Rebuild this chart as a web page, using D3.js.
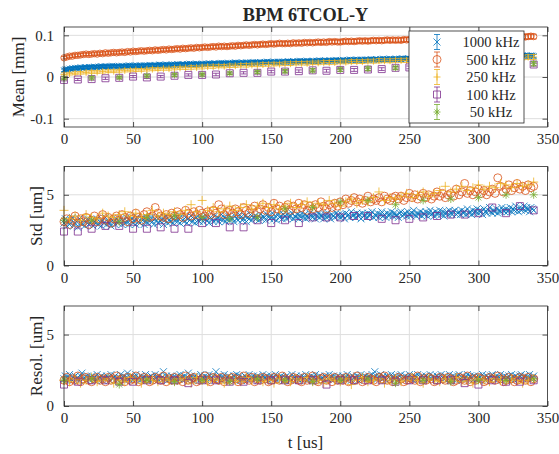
<!DOCTYPE html>
<html><head><meta charset="utf-8">
<script src="https://cdn.jsdelivr.net/npm/d3@7"></script>
<style>
body{margin:0;background:#fff}
svg{display:block}
text{font-family:"Liberation Serif","Times New Roman",serif;fill:#262626}
</style>
</head><body>
<svg id="chart" width="559" height="454"></svg>
<script>
// ---------------- DATA ----------------
const chartTitle = "BPM 6TCOL-Y";
const seriesNames = ["1000 kHz","500 kHz","250 kHz","100 kHz","50 kHz"];
const timeStep = [1,2,4,10,20]; // us between samples of each series
const xTickValues = [0,50,100,150,200,250,300,350];
const xTickLabels = ["0","50","100","150","200","250","300","350"];
const meanTickValues = [-0.1,0,0.1];
const meanTickLabels = ["-0.1","0","0.1"];
const umTickValues = [0,5];
const umTickLabels = ["0","5"];
const yLabels = ["Mean [mm]","Std [um]","Resol. [um]"];
const xLabel = "t [us]";

// 1000 kHz
const mean1000 = [
0.016,0.018,0.019,0.018,0.020,0.019,0.021,0.020,0.022,0.021,0.022,0.021,0.023,0.022,0.022,0.024,0.023,0.022,0.024,0.023,
0.024,0.023,0.025,0.024,0.023,0.025,0.024,0.026,0.025,0.024,0.026,0.025,0.024,0.026,0.025,0.027,0.026,0.025,0.026,0.025,
0.026,0.025,0.027,0.026,0.025,0.027,0.026,0.028,0.027,0.026,0.027,0.026,0.028,0.027,0.026,0.028,0.027,0.026,0.028,0.027,
0.028,0.027,0.029,0.028,0.027,0.028,0.029,0.027,0.028,0.030,0.029,0.028,0.029,0.028,0.030,0.029,0.028,0.029,0.030,0.029,
0.030,0.029,0.031,0.030,0.029,0.030,0.031,0.030,0.029,0.031,0.030,0.032,0.031,0.030,0.031,0.030,0.032,0.031,0.030,0.031,
0.032,0.031,0.030,0.032,0.031,0.033,0.032,0.031,0.032,0.033,0.032,0.031,0.033,0.032,0.034,0.033,0.032,0.033,0.032,0.034,
0.033,0.032,0.034,0.033,0.035,0.034,0.033,0.034,0.033,0.035,0.034,0.033,0.035,0.034,0.033,0.035,0.034,0.036,0.035,0.034,
0.035,0.034,0.036,0.035,0.034,0.036,0.035,0.037,0.036,0.035,0.036,0.035,0.037,0.036,0.035,0.037,0.036,0.035,0.037,0.036,
0.037,0.036,0.038,0.037,0.036,0.037,0.038,0.037,0.036,0.038,0.037,0.039,0.038,0.037,0.038,0.037,0.039,0.038,0.037,0.038,
0.039,0.038,0.037,0.039,0.038,0.040,0.039,0.038,0.039,0.040,0.039,0.038,0.040,0.039,0.038,0.040,0.039,0.041,0.040,0.039,
0.040,0.039,0.041,0.040,0.039,0.041,0.040,0.042,0.041,0.040,0.041,0.040,0.042,0.041,0.040,0.042,0.041,0.040,0.042,0.041,
0.042,0.041,0.043,0.042,0.041,0.042,0.043,0.042,0.041,0.043,0.042,0.044,0.043,0.042,0.043,0.042,0.044,0.043,0.042,0.043,
0.044,0.043,0.042,0.044,0.043,0.045,0.044,0.043,0.044,0.045,0.044,0.043,0.045,0.044,0.043,0.045,0.044,0.046,0.045,0.044,
0.045,0.044,0.046,0.045,0.044,0.046,0.045,0.047,0.046,0.045,0.046,0.045,0.047,0.046,0.045,0.047,0.046,0.045,0.047,0.046,
0.047,0.046,0.048,0.047,0.046,0.047,0.048,0.047,0.046,0.048,0.047,0.049,0.048,0.047,0.048,0.047,0.049,0.048,0.047,0.048,
0.049,0.048,0.047,0.049,0.048,0.050,0.049,0.048,0.049,0.050,0.049,0.048,0.050,0.049,0.048,0.050,0.049,0.051,0.050,0.049,
0.050,0.049,0.051,0.050,0.049,0.051,0.050,0.052,0.051,0.050,0.051,0.050,0.052,0.051,0.050,0.052,0.051,0.050,0.052,0.051,0.050];
const std1000 = [
3.0,3.3,2.8,3.1,2.9,3.2,3.4,2.8,3.0,3.1,2.7,3.3,3.0,2.9,3.2,2.8,3.1,3.3,2.9,3.0,
3.2,2.8,3.1,3.0,3.3,2.9,3.1,2.8,3.2,3.0,3.4,2.9,3.1,3.0,2.8,3.2,3.1,2.9,3.3,3.0,
3.1,3.3,2.9,3.2,3.0,3.4,3.1,2.9,3.2,3.3,3.0,3.2,2.9,3.4,3.1,3.0,3.3,3.2,2.9,3.1,
3.3,3.0,3.2,3.4,3.1,2.9,3.3,3.2,3.0,3.4,3.1,3.3,2.9,3.2,3.5,3.0,3.2,3.1,3.4,3.0,
3.2,3.4,3.1,3.3,3.0,3.5,3.2,3.1,3.4,3.0,3.3,3.2,3.5,3.1,3.3,3.0,3.4,3.2,3.1,3.3,
3.4,3.1,3.3,3.5,3.2,3.0,3.4,3.3,3.1,3.5,3.2,3.4,3.1,3.3,3.6,3.2,3.4,3.1,3.3,3.5,
3.2,3.4,3.3,3.1,3.5,3.3,3.2,3.6,3.4,3.2,3.3,3.5,3.1,3.4,3.3,3.6,3.2,3.4,3.5,3.3,
3.4,3.2,3.6,3.3,3.5,3.4,3.2,3.6,3.5,3.3,3.4,3.7,3.3,3.5,3.2,3.6,3.4,3.5,3.3,3.6,
3.5,3.3,3.6,3.4,3.5,3.7,3.3,3.5,3.4,3.6,3.3,3.5,3.7,3.4,3.6,3.3,3.5,3.4,3.7,3.5,
3.4,3.6,3.3,3.5,3.7,3.4,3.6,3.5,3.3,3.6,3.4,3.7,3.5,3.3,3.6,3.5,3.4,3.7,3.5,3.6,
3.4,3.6,3.5,3.3,3.7,3.5,3.6,3.4,3.8,3.5,3.6,3.4,3.7,3.5,3.6,3.3,3.7,3.5,3.6,3.4,
3.7,3.5,3.6,3.8,3.4,3.6,3.5,3.7,3.4,3.6,3.8,3.5,3.6,3.4,3.7,3.5,3.6,3.8,3.5,3.7,
3.5,3.6,3.4,3.7,3.8,3.5,3.6,3.7,3.5,3.8,3.6,3.5,3.7,3.9,3.6,3.5,3.7,3.6,3.8,3.5,
3.7,3.6,3.8,3.5,3.7,3.9,3.6,3.7,3.5,3.8,3.6,3.7,3.9,3.6,3.8,3.5,3.7,3.8,3.6,3.9,
3.7,3.6,3.8,3.9,3.6,3.7,3.8,3.6,3.9,3.7,3.8,3.6,4.0,3.7,3.8,3.6,3.9,3.7,3.8,4.0,
3.7,3.9,3.8,3.6,4.0,3.8,3.7,3.9,4.1,3.8,3.7,3.9,3.8,4.0,3.7,3.9,3.8,4.1,3.9,3.8,
4.0,3.8,3.9,4.1,3.8,4.0,3.9,4.2,3.9,3.8,4.1,3.9,4.0,4.2,3.9,4.1,4.0,3.8,4.1,4.0,3.9];
const res1000 = [
1.9,2.1,1.8,2.0,2.2,1.9,1.8,2.0,2.1,1.9,2.0,1.8,2.1,2.3,1.9,2.0,1.8,2.1,1.9,2.0,
2.1,1.9,2.0,1.8,2.2,1.9,2.0,2.1,1.8,2.0,1.9,2.1,2.0,1.8,2.2,1.9,2.0,2.1,1.9,1.8,
2.0,2.2,1.9,2.1,1.8,2.0,2.3,1.9,2.0,2.1,1.8,2.0,2.2,1.9,2.0,1.8,2.1,1.9,2.0,2.2,
1.9,2.0,1.8,2.1,2.0,1.9,2.2,2.0,1.8,2.1,1.9,2.0,2.4,1.9,2.1,1.8,2.0,1.9,2.1,2.0,
1.8,2.0,2.1,1.9,2.2,2.0,1.8,2.1,1.9,2.0,2.3,1.9,2.1,1.8,2.0,2.1,1.9,2.0,1.8,2.2,
2.0,1.9,2.1,1.8,2.0,2.2,1.9,2.0,2.1,1.8,2.4,2.0,1.9,2.1,1.8,2.0,2.2,1.9,2.0,2.1,
1.9,2.0,1.8,2.1,2.0,2.2,1.9,2.1,1.8,2.0,1.9,2.1,2.0,1.8,2.2,1.9,2.0,2.1,1.9,2.0,
2.1,1.8,2.0,1.9,2.2,2.0,1.9,2.1,1.8,2.0,2.1,1.9,2.0,2.2,1.8,2.0,1.9,2.1,2.0,1.8,
2.0,2.1,1.9,2.0,1.8,2.2,1.9,2.0,2.1,1.9,1.8,2.0,2.1,1.9,2.0,2.2,1.8,2.0,1.9,2.1,
1.9,2.0,2.2,1.8,2.0,2.1,1.9,2.0,1.8,2.1,2.0,1.9,2.2,2.0,1.8,2.1,1.9,2.0,2.1,1.9,
2.0,1.8,2.1,1.9,2.0,2.2,1.9,2.0,1.8,2.1,2.0,1.9,2.1,1.8,2.0,2.2,1.9,2.0,2.1,1.9,
2.0,2.1,1.9,2.2,2.0,2.4,2.1,1.9,2.0,2.2,1.9,2.1,2.0,1.8,2.1,2.0,1.9,2.2,2.0,1.9,
2.1,2.0,1.8,2.1,2.2,1.9,2.0,2.1,1.9,2.0,2.2,1.9,2.0,1.8,2.1,2.0,2.2,1.9,2.0,2.1,
1.9,2.0,2.1,1.8,2.0,2.2,1.9,2.1,2.0,1.9,2.1,2.0,1.8,2.2,2.0,1.9,2.1,2.0,1.9,2.2,
2.0,1.9,2.1,2.0,1.8,2.1,2.2,1.9,2.0,2.1,1.9,2.0,2.2,1.9,2.1,2.0,1.8,2.1,2.0,1.9,
2.1,2.0,1.9,2.2,2.0,1.8,2.1,2.0,1.9,2.1,2.2,1.9,2.0,2.1,1.9,2.0,2.2,1.8,2.0,2.1,
1.9,2.0,2.1,1.9,2.2,2.0,1.8,2.1,2.0,1.9,2.1,2.2,1.9,2.0,2.1,1.9,2.0,2.2,1.9,2.0,2.1];

// 500 kHz
const mean500 = [
0.046,0.048,0.050,0.050,0.052,0.052,0.053,0.054,0.055,0.054,0.055,0.056,0.055,0.057,0.056,0.058,0.057,0.058,0.059,0.058,
0.059,0.060,0.059,0.061,0.060,0.062,0.061,0.062,0.063,0.062,0.063,0.064,0.063,0.065,0.064,0.065,0.066,0.065,0.067,0.066,
0.067,0.068,0.067,0.069,0.068,0.069,0.070,0.069,0.071,0.070,0.071,0.072,0.071,0.072,0.073,0.072,0.074,0.073,0.074,0.073,
0.074,0.075,0.074,0.076,0.075,0.076,0.077,0.076,0.077,0.078,0.077,0.078,0.079,0.078,0.079,0.080,0.079,0.080,0.081,0.080,
0.080,0.081,0.080,0.082,0.081,0.082,0.081,0.083,0.082,0.083,0.082,0.083,0.084,0.083,0.084,0.083,0.085,0.084,0.085,0.084,
0.084,0.085,0.086,0.085,0.086,0.085,0.086,0.087,0.086,0.087,0.086,0.087,0.088,0.087,0.088,0.087,0.088,0.089,0.088,0.089,
0.088,0.089,0.088,0.090,0.089,0.090,0.089,0.091,0.090,0.091,0.090,0.091,0.090,0.092,0.091,0.092,0.091,0.092,0.093,0.092,
0.092,0.093,0.092,0.093,0.094,0.093,0.094,0.093,0.094,0.093,0.094,0.095,0.094,0.095,0.094,0.095,0.096,0.095,0.096,0.095,
0.095,0.096,0.095,0.096,0.097,0.096,0.097,0.096,0.097,0.098,0.097];
const std500 = [
3.1,3.3,2.9,3.2,3.5,3.0,3.3,3.1,3.4,2.9,3.2,3.5,3.1,3.3,3.6,3.2,3.4,3.0,3.3,3.5,
3.2,3.6,3.4,3.1,3.5,3.3,3.7,3.4,3.2,3.6,3.8,3.4,3.5,4.1,3.7,3.5,3.4,3.6,3.3,3.7,
3.5,3.8,3.6,3.4,3.9,3.7,3.5,3.8,3.6,3.9,3.7,3.5,3.8,3.6,3.9,3.7,4.3,4.0,3.6,3.8,
3.9,3.7,4.0,3.8,3.6,4.1,3.9,3.7,4.0,4.2,3.8,4.0,4.3,3.9,4.1,3.8,4.4,4.0,4.2,3.9,
4.1,4.3,3.9,4.2,4.0,4.4,4.1,4.3,3.9,4.2,4.0,4.3,4.1,4.5,4.2,4.0,4.3,4.1,4.4,4.2,
4.5,4.3,4.7,4.4,4.6,4.8,4.5,4.7,4.4,4.6,4.9,4.5,4.7,4.6,4.8,4.5,4.9,4.7,4.6,4.8,
4.9,4.7,4.9,4.6,4.8,5.1,4.8,5.0,4.7,4.9,5.1,4.8,5.0,4.7,4.9,5.2,4.9,5.1,4.8,5.0,
5.1,4.9,5.4,5.0,5.2,5.8,5.1,5.3,5.0,5.2,5.4,5.1,5.3,5.0,5.2,5.4,5.1,6.2,5.6,5.2,
5.4,5.7,5.3,5.5,5.8,5.4,5.6,5.3,5.7,5.5,5.6];
const res500 = [
1.8,2.0,1.7,1.9,1.8,2.1,1.7,1.9,2.0,1.8,1.7,1.9,2.0,1.8,1.9,1.7,2.0,1.8,1.9,2.1,
1.8,1.9,1.7,2.0,1.8,1.9,2.1,1.7,1.8,2.0,1.9,1.7,1.8,2.0,1.9,1.8,2.1,1.7,1.9,1.8,
2.0,1.8,1.9,1.7,2.1,1.8,1.9,2.0,1.7,1.8,1.9,2.1,1.8,1.7,2.0,1.9,1.8,2.0,1.7,1.9,
1.8,2.0,1.9,1.7,1.8,2.1,1.9,1.8,2.0,1.7,1.9,1.8,2.0,1.9,1.7,1.8,2.0,1.9,1.8,2.1,
1.9,1.7,1.8,2.0,1.9,1.8,1.7,2.0,1.8,1.9,2.1,1.8,1.7,1.9,2.0,1.8,1.9,1.7,2.0,1.8,
1.9,1.8,2.0,1.7,1.9,1.8,2.1,1.9,1.7,1.8,2.0,1.9,1.8,1.7,2.0,1.9,2.1,1.8,1.9,1.7,
1.8,2.0,1.9,1.7,1.8,2.0,1.9,1.8,2.1,1.7,1.9,1.8,2.0,1.9,1.7,1.8,2.0,1.9,1.8,2.0,
1.9,1.7,1.8,2.0,1.9,1.8,2.1,1.7,1.9,1.8,2.0,1.9,1.7,1.8,2.0,1.9,1.8,2.1,1.9,1.7,
1.8,2.0,1.9,1.7,1.8,2.0,1.9,1.8,2.0,1.7,1.9];

// 250 kHz
const mean250 = [
0.006,0.008,0.009,0.010,0.011,0.012,0.012,0.013,0.014,0.014,0.015,0.016,0.016,0.017,0.017,0.018,0.019,0.019,0.020,0.020,
0.021,0.022,0.022,0.023,0.023,0.024,0.025,0.025,0.026,0.026,0.027,0.027,0.028,0.028,0.029,0.029,0.030,0.030,0.031,0.031,
0.032,0.032,0.033,0.033,0.033,0.034,0.034,0.035,0.035,0.035,0.036,0.036,0.037,0.037,0.037,0.038,0.038,0.039,0.039,0.039,
0.040,0.040,0.040,0.041,0.041,0.042,0.042,0.042,0.043,0.043,0.043,0.044,0.044,0.044,0.045,0.045,0.045,0.046,0.046,0.046,
0.046,0.047,0.047,0.047,0.048,0.048];
const std250 = [
3.9,3.3,3.5,3.2,3.6,3.4,3.3,3.7,3.5,3.4,3.6,3.8,3.5,3.7,3.4,3.6,3.9,3.5,3.7,3.6,
3.8,3.6,3.9,4.3,3.8,4.6,3.9,4.1,3.8,4.0,4.2,3.9,4.1,4.3,4.0,4.2,4.4,4.1,4.3,4.0,
4.2,4.4,4.1,4.3,4.5,4.2,4.4,4.3,4.6,4.4,4.2,4.5,4.7,4.4,4.6,4.5,4.8,5.2,4.6,4.8,
4.7,4.9,5.1,4.8,5.0,5.2,4.9,5.1,5.3,5.6,5.2,5.4,5.6,5.3,5.5,5.7,5.4,5.6,5.5,5.8,
5.7,5.5,5.8,5.6,5.7,5.9];
const res250 = [
1.8,1.7,1.9,1.6,1.8,2.0,1.7,1.8,1.9,1.6,1.8,1.7,2.0,1.8,1.6,1.9,1.8,1.7,1.9,1.8,
1.7,1.9,1.8,1.6,2.0,1.8,1.7,1.9,1.8,1.6,1.9,1.8,1.7,2.0,1.8,1.9,1.7,1.8,1.6,1.9,
1.8,1.7,1.9,1.8,2.0,1.7,1.8,1.6,1.9,1.8,1.7,1.9,1.5,1.8,2.0,1.7,1.8,1.9,1.6,1.8,
1.9,1.7,1.8,2.0,1.8,1.6,1.9,1.8,1.7,1.9,1.8,2.0,1.7,1.8,1.6,1.9,1.8,1.7,1.9,1.8,
1.7,1.9,1.8,1.6,1.8,1.9];

// 100 kHz
const mean100 = [-0.007,-0.006,-0.005,-0.003,-0.002,0.001,-0.001,0.001,0.003,0.005,0.005,0.006,0.009,0.010,0.010,0.013,0.013,0.014,0.016,0.015,0.017,0.017,0.018,0.019,0.022,0.023,0.024,0.025,0.026,0.027,0.028,0.029,0.029,0.030,0.030];
const std100 = [2.4,2.4,2.6,2.8,2.8,2.6,2.6,2.7,2.6,2.6,3.0,3.0,2.7,2.7,3.2,3.0,3.2,3.0,3.4,3.4,3.4,3.5,3.5,3.3,3.2,3.3,3.4,3.5,3.6,3.6,3.7,4.1,3.7,4.2,3.9];
const res100 = [1.5,1.7,1.8,1.8,1.7,1.7,1.8,1.8,1.8,1.6,1.8,1.8,1.7,1.7,1.8,1.8,1.8,1.8,1.8,1.5,1.8,1.8,1.8,1.8,1.7,1.8,1.8,1.8,1.8,1.6,1.5,1.8,1.7,1.7,1.8];

// 50 kHz
const mean50 = [-0.003,-0.002,-0.001,0.003,0.005,0.006,0.009,0.012,0.014,0.016,0.018,0.020,0.022,0.024,0.026,0.028,0.030,0.032];
const std50 = [3.2,3.2,3.1,3.4,3.5,3.4,3.3,3.4,4.0,4.1,4.5,4.6,4.3,4.6,4.7,4.8,5.0,5.0];
const res50 = [1.8,1.9,1.5,1.8,1.7,1.8,1.7,1.9,1.8,1.7,1.8,1.9,1.6,1.8,1.7,1.8,1.8,1.9];

// ---------------- STYLE / LAYOUT ----------------
const colors = ["#0072BD","#D95319","#EDB120","#7E2F8E","#77AC30"];
const markers = ["x","o","+","s","*"];
const meanData = [mean1000,mean500,mean250,mean100,mean50];
const stdData = [std1000,std500,std250,std100,std50];
const resData = [res1000,res500,res250,res100,res50];

const svg = d3.select("#chart");
const axisColor = "#262626";
const gridColor = "#dedede";
const x = d3.scaleLinear().domain([0,350]).range([64,547.5]);

const panels = [
  {top:27, bottom:127, domain:[-0.12,0.12], ticks:meanTickValues, labels:meanTickLabels, ylab:yLabels[0], labX:18.5, data:meanData, err:true,
   size:{x:3,o:3.2,"+":3.5,s:3.5,"*":3.5}},
  {top:166.5, bottom:265.5, domain:[0,7], ticks:umTickValues, labels:umTickLabels, ylab:yLabels[1], labX:36, data:stdData, err:false,
   size:{x:3.5,o:4,"+":4.5,s:3.5,"*":4}},
  {top:306, bottom:406, domain:[0,7], ticks:umTickValues, labels:umTickLabels, ylab:yLabels[2], labX:36, data:resData, err:false,
   size:{x:3.5,o:4,"+":4.5,s:3.5,"*":4}}
];

function markerPath(type, s){
  switch(type){
    case "x": return `M${-s},${-s}L${s},${s}M${-s},${s}L${s},${-s}`;
    case "+": return `M${-s},0H${s}M0,${-s}V${s}`;
    case "*": { const d=s*0.72; return `M${-s},0H${s}M0,${-s}V${s}M${-d},${-d}L${d},${d}M${-d},${d}L${d},${-d}`; }
    case "s": return `M${-s},${-s}H${s}V${s}H${-s}Z`;
    case "o": return `M${s},0A${s},${s} 0 1,1 ${-s},0A${s},${s} 0 1,1 ${s},0Z`;
  }
}

panels.forEach((p) => {
  const y = d3.scaleLinear().domain(p.domain).range([p.bottom, p.top]);
  const g = svg.append("g");
  // grid
  g.append("g").selectAll("line.gx").data(xTickValues.slice(1,-1)).join("line")
    .attr("x1",d=>x(d)).attr("x2",d=>x(d)).attr("y1",p.top).attr("y2",p.bottom)
    .attr("stroke",gridColor).attr("stroke-width",1);
  g.append("g").selectAll("line.gy").data(p.ticks).join("line")
    .attr("x1",x(0)).attr("x2",x(350)).attr("y1",d=>y(d)).attr("y2",d=>y(d))
    .attr("stroke",gridColor).attr("stroke-width",1);

  // data
  p.data.forEach((vals, si) => {
    const step = timeStep[si], col = colors[si], mk = markers[si];
    const sg = g.append("g").attr("fill","none").attr("stroke",col).attr("stroke-width",0.8);
    if (p.err) {
      const errs = stdData[si];
      sg.selectAll("path.eb").data(vals).join("path")
        .attr("d",(d,i)=>{
          const xx = x(i*step), e = errs[i]/1000;
          const y1 = y(d+e), y2 = y(d-e);
          return `M${xx},${y1}V${y2}M${xx-3},${y1}H${xx+3}M${xx-3},${y2}H${xx+3}`;
        });
    }
    sg.selectAll("path.mk").data(vals).join("path")
      .attr("transform",(d,i)=>`translate(${x(i*step)},${y(d)})`)
      .attr("d", markerPath(mk, p.size[mk]));
  });

  // axes (ticks inward)
  const fmtX = d => xTickLabels[xTickValues.indexOf(d)];
  const fmtY = d => p.labels[p.ticks.indexOf(d)];
  const ax = [
    g.append("g").attr("transform",`translate(0,${p.bottom})`).call(d3.axisBottom(x).tickValues(xTickValues).tickFormat(fmtX).tickSizeInner(-5).tickSizeOuter(0).tickPadding(6.5)),
    g.append("g").attr("transform",`translate(0,${p.top})`).call(d3.axisTop(x).tickValues(xTickValues).tickFormat("").tickSizeInner(-5).tickSizeOuter(0)),
    g.append("g").attr("transform",`translate(${x(0)},0)`).call(d3.axisLeft(y).tickValues(p.ticks).tickFormat(fmtY).tickSizeInner(-5).tickSizeOuter(0).tickPadding(10)),
    g.append("g").attr("transform",`translate(${x(350)},0)`).call(d3.axisRight(y).tickValues(p.ticks).tickFormat("").tickSizeInner(-5).tickSizeOuter(0))
  ];
  ax.forEach(a => {
    a.select(".domain").remove();
    a.selectAll("line").attr("stroke",axisColor).attr("stroke-width",0.8);
    a.selectAll("text").attr("font-size",15).attr("fill",axisColor).style("font-family",'"Liberation Serif",serif');
  });
  g.append("rect").attr("x",x(0)).attr("y",p.top).attr("width",x(350)-x(0)).attr("height",p.bottom-p.top)
    .attr("fill","none").attr("stroke",axisColor).attr("stroke-width",0.8);

  // y label
  g.append("text").attr("transform",`translate(${p.labX},${(p.top+p.bottom)/2}) rotate(-90)`)
    .attr("text-anchor","middle").attr("dominant-baseline","central").attr("font-size",17).text(p.ylab);
});

// title
svg.append("text").attr("x",305.5).attr("y",21).attr("text-anchor","middle")
  .attr("font-size",18.3).attr("font-weight","bold").attr("fill","#000").text(chartTitle);

// x label
svg.append("text").attr("x",305.5).attr("y",448).attr("text-anchor","middle").attr("font-size",17).text(xLabel);

// legend
const lg = svg.append("g");
lg.append("rect").attr("x",409).attr("y",31).attr("width",115).attr("height",92)
  .attr("fill","#fff").attr("stroke",axisColor).attr("stroke-width",0.8);
seriesNames.forEach((name,i) => {
  const cy = 42 + i*17.5, cx = 437;
  const e = lg.append("g").attr("fill","none").attr("stroke",colors[i]).attr("stroke-width",0.8);
  e.append("path").attr("d",`M${cx},${cy-7.5}V${cy+7.5}M${cx-3},${cy-7.5}H${cx+3}M${cx-3},${cy+7.5}H${cx+3}`);
  e.append("path").attr("transform",`translate(${cx},${cy})`).attr("d",markerPath(markers[i], markers[i]==="o"?4:3.5));
  lg.append("text").attr("x",491).attr("y",cy).attr("text-anchor","middle").attr("dominant-baseline","central")
    .attr("font-size",14.5).text(name);
});
</script>
</body></html>
